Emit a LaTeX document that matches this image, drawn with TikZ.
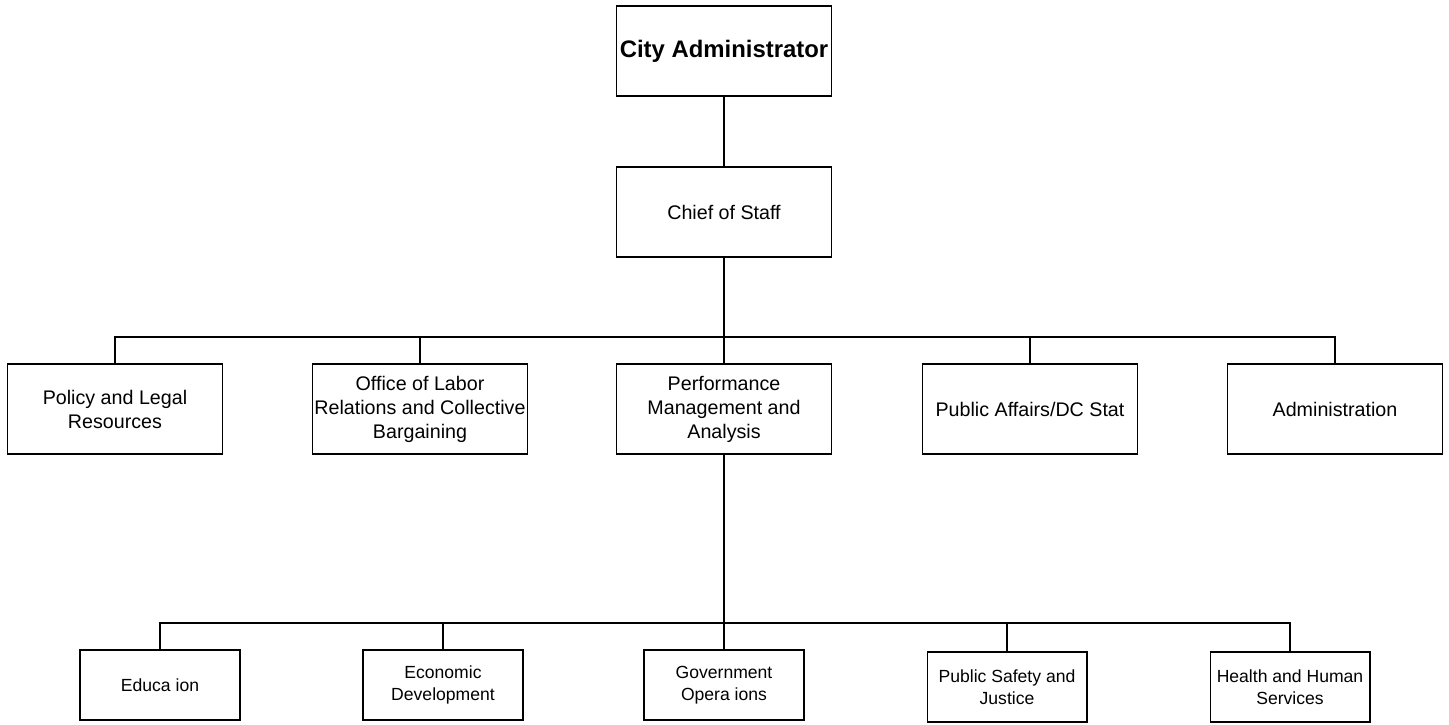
\documentclass[tikz,border=0pt]{standalone}
\usepackage{fontspec}
\setmainfont{Liberation Sans}
\begin{document}
\begin{tikzpicture}[x=0.02cm,y=-0.02cm,line width=0.6pt,
  poste/.style={draw,align=center,inner xsep=0pt,minimum width=4.3cm,minimum height=1.8cm,
    font=\fontsize{11.2}{13.7}\selectfont},
  service/.style={draw,align=center,inner xsep=0pt,minimum width=3.2cm,minimum height=1.4cm,
    font=\fontsize{10}{12.5}\selectfont},
  tronc/.style={line width=1pt}]
\useasboundingbox (0,0) rectangle (1449,724);
%direction
\node[poste,font=\fontsize{13.6}{16}\selectfont\bfseries] (ca) at (724,51) {City Administrator};
\node[poste] (cs) at (724,212) {Chief of Staff};
%bureaux
\foreach \nom/\x/\texte in {pol/115/{Policy and Legal\\Resources},
  olr/420/{Office of Labor\\Relations and Collective\\Bargaining},
  pma/724/{Performance\\Management and\\Analysis},
  pad/1030/{Public Affairs/DC Stat},
  adm/1335/{Administration}}
{\node[poste] (\nom) at (\x,409) {\texte};}
%groupes
\foreach \nom/\x/\y/\texte in {edu/160/685/{Educa ion},
  eco/443/685/{Economic\\Development},
  gov/724/685/{Government\\Opera ions},
  psj/1007/687/{Public Safety and\\Justice},
  hhs/1290/687/{Health and Human\\Services}}
{\node[service] (\nom) at (\x,\y) {\texte};}
%liaisons
\coordinate (bus1) at (724,337);
\coordinate (bus2) at (724,623);
\draw (ca) -- (cs);
\draw[tronc] (cs) -- (pma);
\draw[tronc] (pma) -- (gov);
\foreach \nom in {pol,olr,pad,adm}
{\draw (\nom.north) |- (bus1);}
\foreach \nom in {edu,eco,psj,hhs}
{\draw (\nom.north) |- (bus2);}
\end{tikzpicture}
\end{document}
